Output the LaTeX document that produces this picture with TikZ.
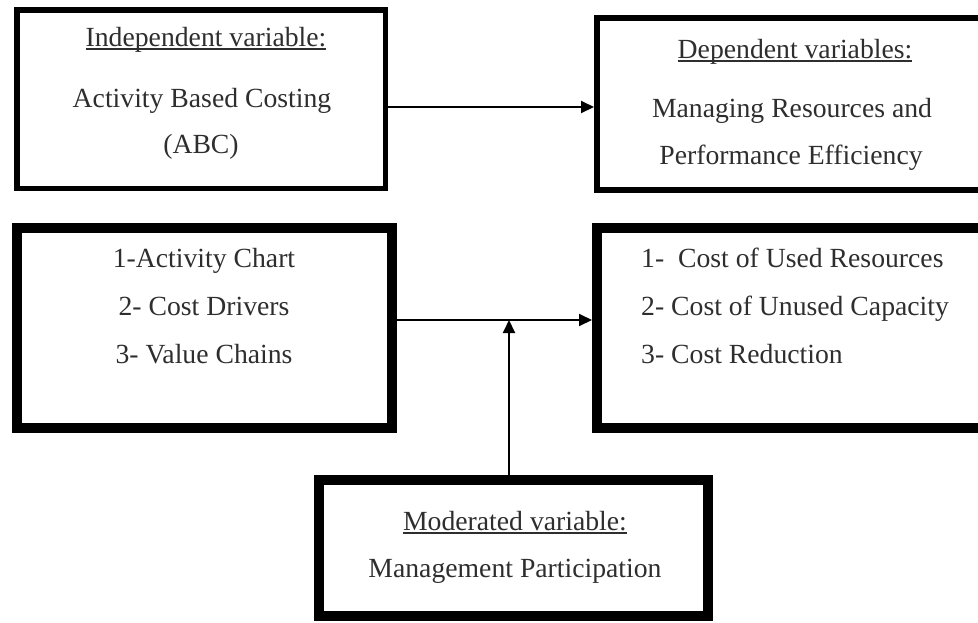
\documentclass[tikz,border=0pt]{standalone}
\usepackage{fontspec}
\setmainfont{Liberation Serif}
\usetikzlibrary{arrows.meta}
\definecolor{txtgray}{HTML}{2E2E2E}
\newcommand\myul[1]{\setbox0=\hbox{#1}\rlap{\color{txtgray}\rule[-3.5pt]{\wd0}{1.2pt}}\box0}
\begin{document}
\begin{tikzpicture}[x=1pt,y=-1pt,
  thinbox/.style={draw=black, line width=5.5pt, inner sep=0pt, rectangle},
  thickbox/.style={draw=black, line width=10pt, inner sep=0pt, rectangle},
  txt/.style={anchor=base, text=txtgray, inner sep=0pt, font=\fontsize{27.7}{33}\selectfont},
  txtl/.style={txt, anchor=base west},
  arr/.style={draw=black, line width=2pt, -{Triangle[length=13pt,width=12pt]}}]
\useasboundingbox (0,0) rectangle (978,622);
\clip (0,0) rectangle (978,622);
% boxes
\node[thinbox, minimum width=368.5pt, minimum height=178.5pt] (b1) at (201,99) {};
\node[thinbox, line width=6pt, minimum width=410pt, minimum height=172pt] (b2) at (802,104) {};
\node[thickbox, minimum width=375pt, minimum height=200pt] (b3) at (204.5,328) {};
\node[thickbox, minimum width=408pt, minimum height=200pt] (b4) at (801,328) {};
\node[thickbox, minimum width=389pt, minimum height=136pt] (b5) at (513.5,548) {};
% texts
\node[txt] (t1a) at (206,46) {\myul{Independent variable:}};
\node[txt] (t1b) at (202,107) {Activity Based Costing};
\node[txt] (t1c) at (201,153) {(ABC)};
\node[txt] (t2a) at (795,58) {\myul{Dependent variables:}};
\node[txt] (t2b) at (792,117) {Managing Resources and};
\node[txt] (t2c) at (791,164) {Performance Efficiency};
\node[txt] (t3a) at (204,267) {1-Activity Chart};
\node[txt] (t3b) at (204,315) {2- Cost Drivers};
\node[txt] (t3c) at (204,363) {3- Value Chains};
\node[txtl] (t4a) at (641,267) {1-\ \ Cost of Used Resources};
\node[txtl] (t4b) at (641,315) {2- Cost of Unused Capacity};
\node[txtl] (t4c) at (641,363) {3- Cost Reduction};
\node[txt] (t5a) at (515,530) {\myul{Moderated variable:}};
\node[txt] (t5b) at (515,577) {Management Participation};
% connectors
\coordinate (ya) at (0,107);
\coordinate (yb) at (0,320);
\coordinate (vx) at (509,320);
\draw[arr] (b1.east |- ya) -- (b2.west |- ya);
\draw[arr] (b3.east |- yb) -- (b4.west |- yb);
\draw[arr] (b5.north -| vx) -- (vx);
\end{tikzpicture}
\end{document}
